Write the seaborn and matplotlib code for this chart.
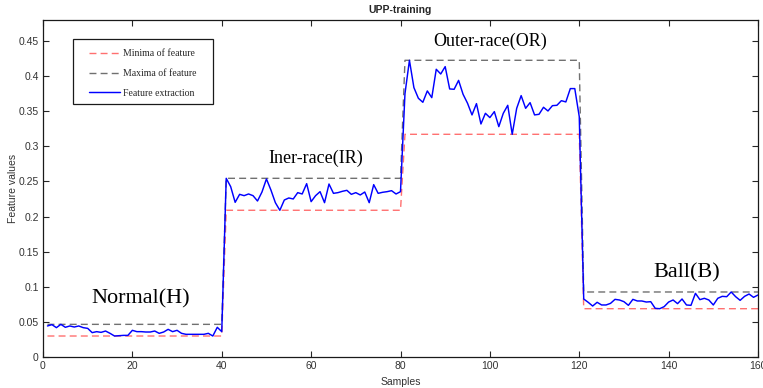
import numpy as np
import pandas as pd
import matplotlib
matplotlib.use("Agg")
import matplotlib.pyplot as plt
from matplotlib.patches import Rectangle
import seaborn as sns

# Feature values per sample, grouped by bearing condition (40 samples each)
normal_h = [0.0442, 0.0461, 0.0418, 0.0465, 0.0423, 0.0442, 0.0427, 0.0442, 0.0418, 0.0408,
            0.0347, 0.0361, 0.0351, 0.0370, 0.0337, 0.0299, 0.0304, 0.0308, 0.0308, 0.0380,
            0.0361, 0.0361, 0.0356, 0.0356, 0.0370, 0.0337, 0.0356, 0.0394, 0.0361, 0.0380,
            0.0337, 0.0323, 0.0323, 0.0323, 0.0323, 0.0323, 0.0337, 0.0299, 0.0423, 0.0361]
inner_ir = [0.2545, 0.2426, 0.2203, 0.2317, 0.2298, 0.2322, 0.2298, 0.2222, 0.2350, 0.2536,
            0.2379, 0.2198, 0.2090, 0.2236, 0.2265, 0.2251, 0.2341, 0.2322, 0.2469, 0.2213,
            0.2298, 0.2355, 0.2198, 0.2464, 0.2331, 0.2341, 0.2360, 0.2374, 0.2317, 0.2341,
            0.2308, 0.2350, 0.2198, 0.2455, 0.2331, 0.2346, 0.2355, 0.2369, 0.2322, 0.2355]
outer_or = [0.3750, 0.4226, 0.3837, 0.3685, 0.3628, 0.3790, 0.3694, 0.4098, 0.4031, 0.4136,
            0.3818, 0.3813, 0.3940, 0.3742, 0.3614, 0.3448, 0.3609, 0.3319, 0.3471, 0.3410,
            0.3495, 0.3281, 0.3471, 0.3585, 0.3172, 0.3542, 0.3723, 0.3542, 0.3623, 0.3448,
            0.3457, 0.3557, 0.3504, 0.3580, 0.3585, 0.3651, 0.3633, 0.3823, 0.3823, 0.3424]
ball_b = [0.0826, 0.0779, 0.0726, 0.0779, 0.0741, 0.0741, 0.0764, 0.0821, 0.0812, 0.0788,
          0.0736, 0.0821, 0.0798, 0.0798, 0.0783, 0.0788, 0.0693, 0.0688, 0.0717, 0.0783,
          0.0812, 0.0760, 0.0826, 0.0741, 0.0736, 0.0907, 0.0817, 0.0836, 0.0812, 0.0741,
          0.0836, 0.0864, 0.0859, 0.0926, 0.0859, 0.0807, 0.0864, 0.0897, 0.0850, 0.0883]

classes = ["Normal(H)", "Iner-race(IR)", "Outer-race(OR)", "Ball(B)"]
x_ticks = [0, 20, 40, 60, 80, 100, 120, 140, 160]
y_ticks = [0, 0.05, 0.1, 0.15, 0.2, 0.25, 0.3, 0.35, 0.4, 0.45]
y_tick_labels = ["0", "0.05", "0.1", "0.15", "0.2", "0.25", "0.3", "0.35", "0.4", "0.45"]

series = [normal_h, inner_ir, outer_or, ball_b]
df = pd.DataFrame({
    "sample": np.arange(1, 1 + sum(len(s) for s in series)),
    "value": np.concatenate(series),
    "cls": np.repeat(classes, [len(s) for s in series]),
})
# Per-class bounds of the extracted feature
df["vmin"] = df.groupby("cls")["value"].transform("min")
df["vmax"] = df.groupby("cls")["value"].transform("max")

sns.set_style("ticks")
plt.rcParams["font.family"] = ["Liberation Sans", "DejaVu Sans"]

fig = plt.figure(figsize=(7.63, 3.88), dpi=100)
ax = fig.add_axes([43 / 763, 31 / 388, 715 / 763, 337 / 388])

sns.lineplot(data=df, x="sample", y="vmin", ax=ax, color="#ff7070",
             linestyle=(0, (5, 3)), linewidth=1.0, label="Minima of feature")
sns.lineplot(data=df, x="sample", y="vmax", ax=ax, color="#707070",
             linestyle=(0, (5, 3)), linewidth=1.0, label="Maxima of feature")
sns.lineplot(data=df, x="sample", y="value", ax=ax, color="#0000ff",
             linewidth=1.05, label="Feature extraction")

ax.set_xlim(0, 160)
ax.set_ylim(0, 0.48)
ax.set_xticks(x_ticks)
ax.set_yticks(y_ticks)
ax.set_yticklabels(y_tick_labels)
ax.tick_params(direction="in", length=4, width=0.8, labelsize=7.5,
               labelcolor="#333333", top=True, right=True, pad=3)
for sp in ax.spines.values():
    sp.set_visible(True)
    sp.set_linewidth(0.9)
    sp.set_color("#1a1a1a")

ax.set_xlabel("Samples", fontsize=7.5, color="#333333", labelpad=4)
ax.set_ylabel("Feature values", fontsize=7.5, color="#333333", labelpad=0.5)
ax.set_title("UPP-training", fontsize=7.5, fontweight="bold", pad=5)

serif = ["Liberation Serif", "DejaVu Serif"]
label_style = {"Normal(H)": (21.9, 0.076, 16), "Iner-race(IR)": (61, 0.277, 13),
               "Outer-race(OR)": (100, 0.443, 13), "Ball(B)": (144, 0.113, 16)}
for name in classes:
    lx, ly, fs = label_style[name]
    ax.text(lx, ly, name, ha="center", va="baseline", fontsize=fs,
            family=serif, color="black")

# Legend entries without their own frame, boxed by a plain rectangle
leg = ax.legend(loc="upper left", bbox_to_anchor=(0.064, 0.913), borderaxespad=0,
                frameon=False, prop={"family": serif, "size": 7},
                handlelength=3.2, handletextpad=0.3, labelspacing=1.1,
                borderpad=0)
ax.add_patch(Rectangle((0.042, 0.7507), 0.1958, 0.1929, transform=ax.transAxes,
                       facecolor="white", edgecolor="#1a1a1a", linewidth=0.9,
                       zorder=leg.get_zorder() - 0.1))

fig.savefig("out.png", dpi=100)
